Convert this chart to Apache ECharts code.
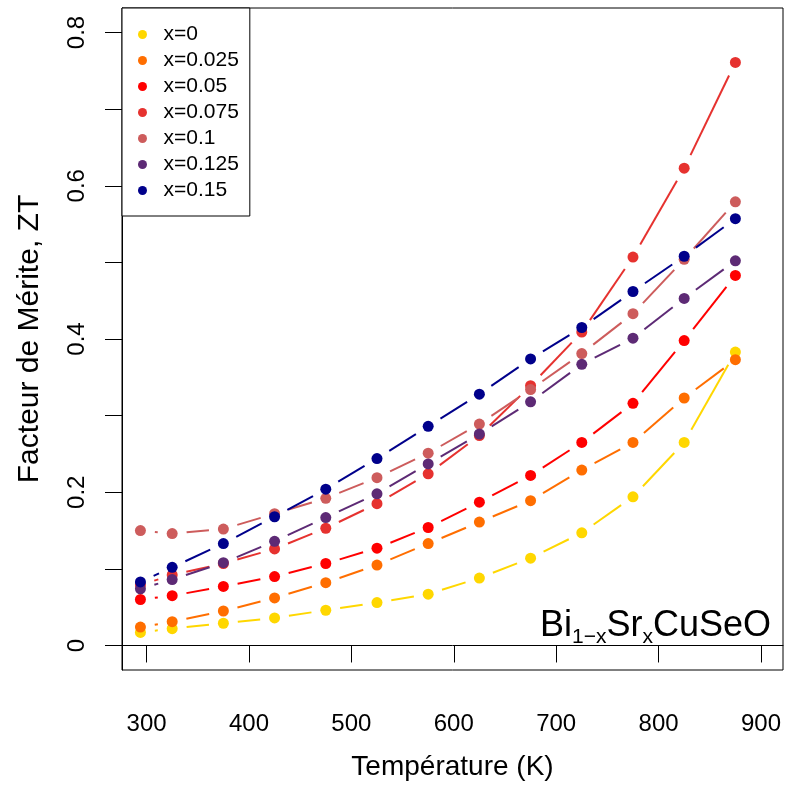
<!DOCTYPE html>
<html>
<head>
<meta charset="utf-8">
<script src="https://cdn.jsdelivr.net/npm/echarts@6/dist/echarts.min.js"></script>
<style>
html,body{margin:0;padding:0;background:#fff;}
#chart{width:786px;height:789px;}
</style>
</head>
<body>
<div id="chart"></div>
<script>
// ---- data ----
var temperatures = [294, 325, 375, 425, 475, 525, 575, 625, 675, 725, 775, 825, 875];
var seriesNames = ['x=0', 'x=0.025', 'x=0.05', 'x=0.075', 'x=0.1', 'x=0.125', 'x=0.15'];
var zt_x0     = [0.017, 0.022, 0.029, 0.036, 0.046, 0.056, 0.067, 0.088, 0.114, 0.147, 0.194, 0.265, 0.383];
var zt_x0025  = [0.024, 0.031, 0.045, 0.062, 0.082, 0.105, 0.133, 0.161, 0.189, 0.229, 0.265, 0.323, 0.373];
var zt_x005   = [0.060, 0.065, 0.077, 0.090, 0.107, 0.127, 0.154, 0.187, 0.222, 0.265, 0.316, 0.398, 0.483];
var zt_x0075  = [0.079, 0.092, 0.107, 0.126, 0.153, 0.185, 0.224, 0.274, 0.339, 0.409, 0.507, 0.623, 0.761];
var zt_x01    = [0.150, 0.146, 0.152, 0.172, 0.192, 0.219, 0.251, 0.289, 0.334, 0.381, 0.433, 0.504, 0.579];
var zt_x0125  = [0.074, 0.086, 0.108, 0.136, 0.167, 0.198, 0.237, 0.276, 0.318, 0.367, 0.401, 0.453, 0.502];
var zt_x015   = [0.083, 0.102, 0.133, 0.168, 0.204, 0.244, 0.286, 0.328, 0.374, 0.415, 0.462, 0.508, 0.557];
var xTickValues = [300, 400, 500, 600, 700, 800, 900];
var yTickValues = [0, 0.1, 0.2, 0.3, 0.4, 0.5, 0.6, 0.7, 0.8];
var yLabelValues = [0, 0.2, 0.4, 0.6, 0.8];
var yLabelTexts = ['0', '0.2', '0.4', '0.6', '0.8'];

var allValues = [zt_x0, zt_x0025, zt_x005, zt_x0075, zt_x01, zt_x0125, zt_x015];
var colors = ['#FFD700', '#FF6E00', '#FF0000', '#E6322F', '#CD5C5C', '#5D2A75', '#00008B'];

var FONT = '"Liberation Sans", Arial, sans-serif';
var GAP = 14.5;

function segRender(params, api) {
  var p1 = api.coord([api.value(0), api.value(1)]);
  var p2 = api.coord([api.value(2), api.value(3)]);
  var dx = p2[0] - p1[0], dy = p2[1] - p1[1];
  var len = Math.sqrt(dx * dx + dy * dy);
  if (len <= 2 * GAP) return null;
  var ux = dx / len, uy = dy / len;
  return {
    type: 'line',
    shape: { x1: p1[0] + ux * GAP, y1: p1[1] + uy * GAP, x2: p2[0] - ux * GAP, y2: p2[1] - uy * GAP },
    style: { stroke: api.visual('color'), lineWidth: 2 }
  };
}

var series = [];
allValues.forEach(function (vals, i) {
  var segs = [];
  for (var k = 0; k < temperatures.length - 1; k++) {
    segs.push([temperatures[k], vals[k], temperatures[k + 1], vals[k + 1]]);
  }
  series.push({
    type: 'custom',
    name: 'seg ' + seriesNames[i],
    renderItem: segRender,
    itemStyle: { color: colors[i] },
    encode: { x: [0, 2], y: [1, 3] },
    data: segs,
    z: 2 + i * 2,
    silent: true
  });
  series.push({
    type: 'scatter',
    name: seriesNames[i],
    symbol: 'circle',
    symbolSize: 11,
    itemStyle: { color: colors[i], opacity: 1 },
    data: temperatures.map(function (t, k) { return [t, vals[k]]; }),
    z: 3 + i * 2
  });
});

var chart = echarts.init(document.getElementById('chart'), null, { renderer: 'canvas' });
chart.setOption({
  animation: false,
  backgroundColor: '#fff',
  textStyle: { fontFamily: FONT },
  grid: { left: 122, right: 3, top: 8, bottom: 119, show: true, borderColor: '#000', borderWidth: 1, backgroundColor: 'transparent' },
  xAxis: {
    type: 'value', min: 276, max: 921.5,
    name: 'Température (K)', nameLocation: 'middle', nameGap: 83,
    nameTextStyle: { fontSize: 28, color: '#000', fontFamily: FONT },
    axisLine: { show: true, lineStyle: { color: '#000', width: 1 } },
    axisTick: { show: true, length: 17, lineStyle: { color: '#000', width: 1 }, customValues: xTickValues },
    axisLabel: { show: true, margin: 42, fontSize: 24, color: '#000', fontFamily: FONT, customValues: xTickValues },
    splitLine: { show: false }
  },
  yAxis: {
    type: 'value', min: -0.032, max: 0.832,
    name: 'Facteur de Mérite, ZT', nameLocation: 'middle', nameGap: 77, nameRotate: 90,
    nameTextStyle: { fontSize: 30, color: '#000', fontFamily: FONT },
    axisLine: { show: true, lineStyle: { color: '#000', width: 1 } },
    axisTick: { show: true, length: 17, lineStyle: { color: '#000', width: 1 }, customValues: yTickValues },
    axisLabel: {
      show: true, rotate: 90, margin: 33, fontSize: 24, color: '#000', fontFamily: FONT,
      customValues: yLabelValues,
      formatter: function (v) {
        for (var i = 0; i < yLabelValues.length; i++) {
          if (Math.abs(v - yLabelValues[i]) < 1e-9) return yLabelTexts[i];
        }
        return '';
      }
    },
    splitLine: { show: false }
  },
  legend: {
    orient: 'vertical', left: 122, top: 8,
    data: seriesNames,
    icon: 'circle', itemWidth: 32, itemHeight: 9, itemGap: 5,
    padding: [16, 11, 15, 16],
    borderColor: '#000', borderWidth: 1, borderRadius: 0,
    backgroundColor: '#fff',
    textStyle: { fontSize: 21, color: '#000', fontFamily: FONT, lineHeight: 21, padding: [0, 0, 0, 0] },
    selectedMode: false
  },
  graphic: [{
    type: 'text', right: 15, top: 605, z: 100,
    style: {
      text: '{n|Bi}{s|1−x}{n|Sr}{s|x}{n|CuSeO}',
      fill: '#000',
      rich: {
        n: { fontSize: 36, lineHeight: 36, fontFamily: FONT, fill: '#000' },
        s: { fontSize: 21, lineHeight: 21, fontFamily: FONT, fill: '#000', padding: [22, 0, 0, 0] }
      }
    }
  }],
  series: series
});
</script>
</body>
</html>
